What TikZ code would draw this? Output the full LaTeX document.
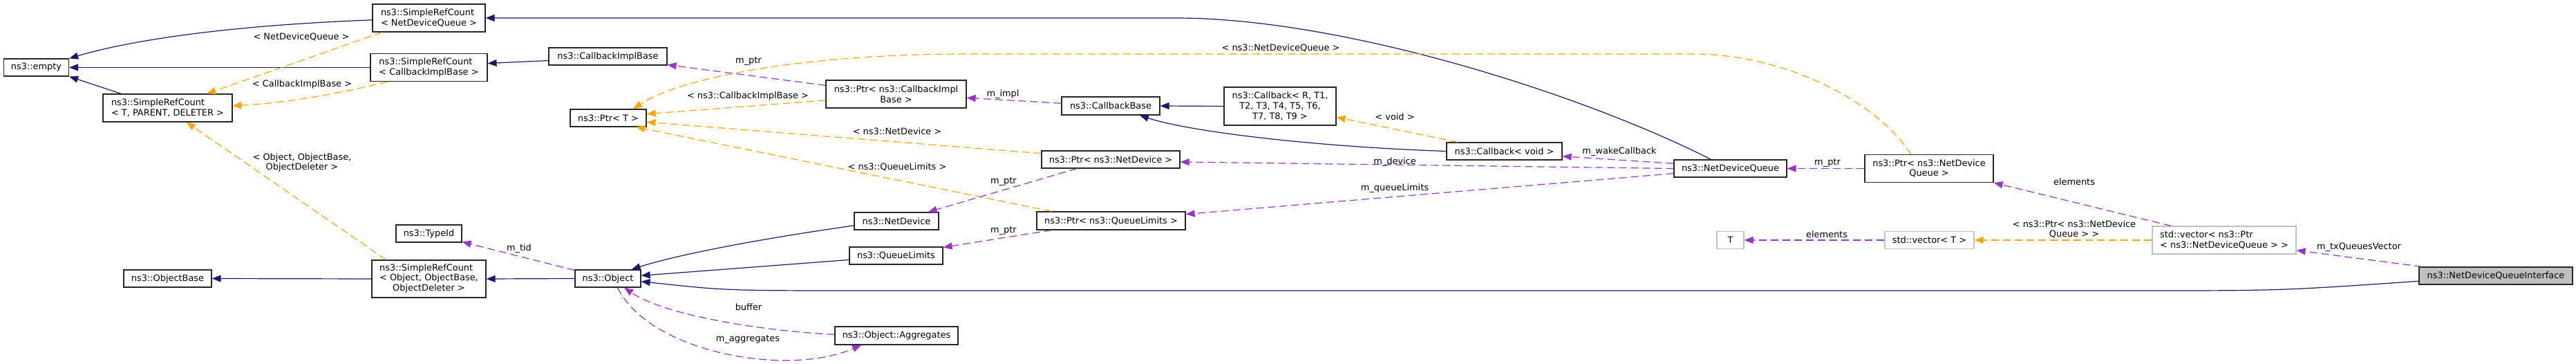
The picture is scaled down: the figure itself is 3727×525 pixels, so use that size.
\documentclass[tikz,border=0pt]{standalone}
\usepackage{fontspec}
\setmainfont{DejaVu Sans}
\definecolor{dxnavy}{HTML}{191970}
\definecolor{dxamber}{HTML}{FFA500}
\definecolor{dxorchid}{HTML}{9A32CD}
\definecolor{dxgrey}{HTML}{BFBFBF}
\usetikzlibrary{arrows.meta}

\begin{document}
\begin{tikzpicture}[x=1pt,y=-1pt,
  font=\fontsize{12.9}{14.7}\selectfont,
  cls/.style={draw=black!85,fill=white,line width=1.2pt,inner sep=0pt,minimum height=25pt},
  ext/.style={cls,draw=dxgrey},
  cur/.style={cls,fill=dxgrey},
  inh/.style={-{Triangle[length=13pt,width=10pt]},dxnavy,line width=1.2pt},
  tpl/.style={-{Triangle[length=13pt,width=10pt]},dxamber,line width=1.2pt,dash pattern=on 11pt off 6pt},
  usg/.style={-{Triangle[length=13pt,width=10pt]},dxorchid,line width=1.2pt,dash pattern=on 11pt off 6pt},
  lab/.style={inner sep=0pt,align=center,text=black}]
\useasboundingbox (0,0) rectangle (3727,525);
% classes
\node[cls,minimum width=94pt] (emp) at (52.5,97.5) {ns3::empty};
\node[cls,minimum width=187pt,minimum height=40pt,align=left] (srct) at (242.5,156) {ns3::SimpleRefCount\\< T, PARENT, DELETER >};
\node[cls,minimum width=127pt] (ob) at (242.5,402.5) {ns3::ObjectBase};
\node[cls,minimum width=163pt,minimum height=40pt,align=left] (srcq) at (620.5,26) {ns3::SimpleRefCount\\< NetDeviceQueue >};
\node[cls,minimum width=169pt,minimum height=40pt,align=left] (srcc) at (620.5,97.5) {ns3::SimpleRefCount\\< CallbackImplBase >};
\node[cls,minimum width=95pt] (tid) at (620.5,337.5) {ns3::TypeId};
\node[cls,minimum width=165pt,minimum height=54pt] (srco) at (620.5,403) {\begin{tabular}{@{}l@{}}ns3::SimpleRefCount\\< Object, ObjectBase,\\\multicolumn{1}{@{}c@{}}{ObjectDeleter >}\end{tabular}};
\node[cls,minimum width=171pt] (cib) at (879.5,81.5) {ns3::CallbackImplBase};
\node[cls,minimum width=110pt] (ptrt) at (880,170.5) {ns3::Ptr< T >};
\node[cls,minimum width=95pt] (obj) at (879.5,402.5) {ns3::Object};
\node[cls,minimum width=203pt,minimum height=40pt,align=center] (ptrc) at (1296.5,136) {ns3::Ptr< ns3::CallbackImpl\\Base >};
\node[cls,minimum width=122pt] (nd) at (1297,319.5) {ns3::NetDevice};
\node[cls,minimum width=135pt] (ql) at (1296.5,369.5) {ns3::QueueLimits};
\node[cls,minimum width=178pt,minimum height=26pt] (agg) at (1297,485) {ns3::Object::Aggregates};
\node[cls,minimum width=142pt,minimum height=26pt] (cbb) at (1607,153) {ns3::CallbackBase};
\node[cls,minimum width=200pt] (ptrd) at (1607,230.5) {ns3::Ptr< ns3::NetDevice >};
\node[cls,minimum width=215pt,minimum height=26pt] (ptrl) at (1607.5,319) {ns3::Ptr< ns3::QueueLimits >};
\node[cls,minimum width=162pt,minimum height=55pt,align=center] (cbr) at (1852,153.5) {ns3::Callback< R, T1,\\T2, T3, T4, T5, T6,\\T7, T8, T9 >};
\node[cls,minimum width=167pt] (cbv) at (2176.5,218.5) {ns3::Callback< void >};
\node[cls,minimum width=163pt] (ndq) at (2503.5,243.5) {ns3::NetDeviceQueue};
\node[cls,minimum width=186pt,minimum height=40pt,align=center] (ptrq) at (2791,243.5) {ns3::Ptr< ns3::NetDevice\\Queue >};
\node[ext,minimum width=39pt] (t) at (2503.5,347) {T};
\node[ext,minimum width=129pt] (vect) at (2791.5,347) {std::vector< T >};
\node[ext,minimum width=208pt,minimum height=40pt,align=left] (vecp) at (3218,347) {std::vector< ns3::Ptr\\< ns3::NetDeviceQueue > >};
\node[cur,minimum width=222pt] (ndqi) at (3611,398.5) {ns3::NetDeviceQueueInterface};
% inheritance
\draw[inh] (srcq.-178) .. controls (350,36) and (200,55) .. (emp.north east);
\draw[inh] (srcc.west) -- (emp.east);
\draw[inh] (srct.163) -- (emp.south east);
\draw[inh] (cib.-176) -- (srcc.4);
\draw[inh] (ndq.155) .. controls (2300,141) and (1950,26) .. (1700,26) -- (srcq.east);
\draw[inh] (srco.west) -- (ob.east);
\draw[inh] (obj.west) -- (srco.east);
\draw[inh] (nd.-174) .. controls (1100,345) and (980,368) .. (obj.21);
\draw[inh] (ql.-175) -- (obj.5);
\draw[inh] (ndqi.-176) .. controls (3300,420) .. (3100,420) -- (1250,420) .. controls (1050,420) .. (obj.-5);
\draw[inh] (cbr.west) -- (cbb.east);
\draw[inh] (cbv.west) .. controls (1900,212) and (1720,190) .. (cbb.-18);
% template instances
\draw[tpl] (srcq.-163) -- (srct.20) node[lab] at (436,53) {< NetDeviceQueue >};
\draw[tpl] (srcc.-161) .. controls (480,138) and (400,150) .. (srct.2) node[lab] at (437,122) {< CallbackImplBase >};
\draw[tpl] (srco.156) -- (srct.-37) node[lab] at (437,235) {< Object, ObjectBase,\\ObjectDeleter >};
\draw[tpl] (ptrc.-175) -- (ptrt.6) node[lab] at (1082,139) {< ns3::CallbackImplBase >};
\draw[tpl] (ptrd.175) -- (ptrt.-6) node[lab] at (1298,190) {< ns3::NetDevice >};
\draw[tpl] (ptrl.171) -- (ptrt.-18) node[lab] at (1298,241) {< ns3::QueueLimits >};
\draw[tpl] (ptrq.142) .. controls (2715,145) and (2580,78) .. (2450,78) -- (1400,78) .. controls (1150,78) and (980,115) .. (ptrt.20) node[lab] at (1853,69) {< ns3::NetDeviceQueue >};
\draw[tpl] (cbv.169) -- (cbr.-11) node[lab] at (2018,169) {< void >};
\draw[tpl] (vecp.west) -- (vect.east) node[lab] at (3001,331.5) {< ns3::Ptr< ns3::NetDevice\\Queue > >};
% members
\draw[usg] (ptrc.173) -- (cib.-8) node[lab] at (1083,88) {m\_ptr};
\draw[usg] (cbb.177) -- (ptrc.-3) node[lab] at (1451,136) {m\_impl};
\draw[usg] (ptrd.-165) -- (nd.16) node[lab] at (1452,262) {m\_ptr};
\draw[usg] (ptrl.-171) -- (ql.10) node[lab] at (1452,333) {m\_ptr};
\draw[usg] (obj.166) -- (tid.-14) node[lab] at (751,359) {m\_tid};
\draw[usg] (agg.179) .. controls (1100,478) and (960,455) .. (obj.-29) node[lab] at (1083,444) {buffer};
\draw[usg] (obj.-43) .. controls (940,510) and (1140,545) .. (agg.-165) node[lab] at (1082,490) {m\_aggregates};
\draw[usg] (ndq.175) -- (cbv.-5) node[lab] at (2343,219) {m\_wakeCallback};
\draw[usg] (ndq.west) -- (ptrd.-2) node[lab] at (2018,234) {m\_device};
\draw[usg] (ndq.-175) -- (ptrl.5) node[lab] at (2018,272) {m\_queueLimits};
\draw[usg] (ptrq.west) -- (ndq.east) node[lab] at (2644,235) {m\_ptr};
\draw[usg] (vecp.165) -- (ptrq.south east) node[lab] at (3001,263) {elements};
\draw[usg] (vect.west) -- (t.east) node[lab] at (2643,339) {elements};
\draw[usg] (ndqi.173) -- (vecp.-8) node[lab] at (3413,357) {m\_txQueuesVector};
\end{tikzpicture}
\end{document}
